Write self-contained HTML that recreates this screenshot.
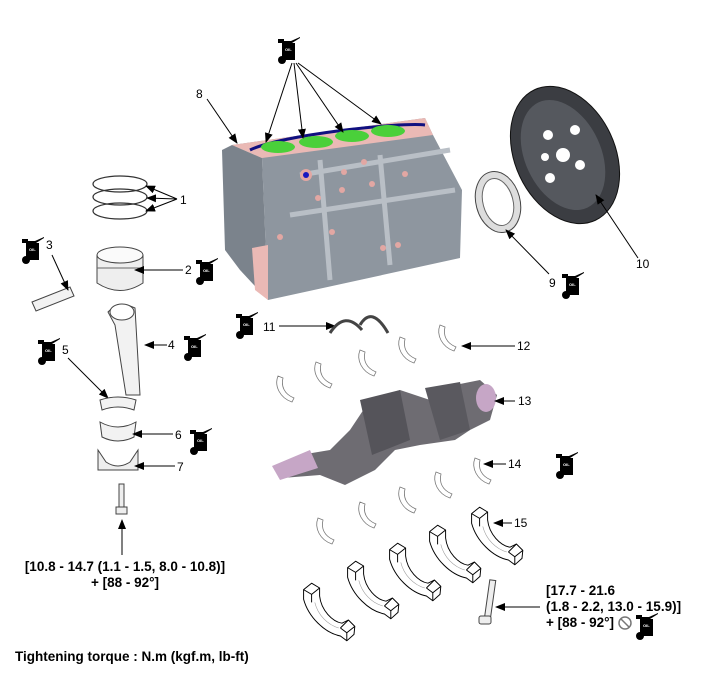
<!DOCTYPE html>
<html><head><meta charset="utf-8"><style>
body{margin:0;background:#fff;}
svg{display:block;font-family:"Liberation Sans",Arial,sans-serif;}
.n{font-size:12px;fill:#000;}
.b{font-size:13.5px;font-weight:bold;fill:#000;}
.l{stroke:#000;stroke-width:1;fill:none;}
.sh{fill:#fff;stroke:#777;stroke-width:0.8;}
</style></head><body>
<svg width="701" height="679" viewBox="0 0 701 679" xmlns="http://www.w3.org/2000/svg">
<defs>
<marker id="a" markerWidth="10" markerHeight="8" refX="9" refY="4" orient="auto" markerUnits="userSpaceOnUse"><path d="M0,0 L10,4 L0,8 Z" fill="#000"/></marker>
<g id="oil"><path d="M0,2 L6,2 L6,4 L13,4 L22,0 L22,1 L14,6 L0,6 Z" fill="#000"/><rect x="4" y="6" width="13" height="17" fill="#000"/><circle cx="4" cy="23" r="4" fill="#000"/><text x="7" y="14" font-size="4" fill="#fff" font-weight="bold">OIL</text></g>
<g id="shell"><path d="M0,0 C-4,10 2,22 14,26 L16,22 C6,18 3,10 5,2 Z" class="sh"/></g>
<g id="cap" fill="#fff" stroke="#000" stroke-width="1.2" stroke-linejoin="round" transform="scale(0.8)">
<path d="M-8,2 L2,-6 L12,0 L12,10 C14,28 28,42 40,44 L48,40 L56,48 L55,58 L46,66 L38,60 C18,56 -2,36 -8,14 Z"/>
<path d="M-8,2 L2,8 L12,0 M2,8 L2,18 M38,50 L48,40 M38,50 L46,56 L56,48 M46,56 L46,66" />
<path d="M6,18 C10,34 22,46 36,50" stroke="#999" stroke-width="0.7"/>
</g>
</defs>

<!-- engine block -->
<polygon points="232,145 262,158 268,300 460,258 462,190 433,135 425,118" fill="#8e969f"/>
<polygon points="222,150 232,145 262,158 268,300 240,270 225,250" fill="#7b838c"/>
<polygon points="232,145 425,118 433,135 262,158" fill="#eab9b5"/>
<polygon points="252,248 268,245 268,300 255,290" fill="#eab9b5"/>
<path d="M250,150 C280,135 400,122 425,125" stroke="#101080" stroke-width="3" fill="none"/>
<ellipse cx="278" cy="147" rx="17" ry="6" fill="#4ad03a"/>
<ellipse cx="316" cy="142" rx="17" ry="6" fill="#4ad03a"/>
<ellipse cx="352" cy="136" rx="17" ry="6" fill="#4ad03a"/>
<ellipse cx="388" cy="131" rx="17" ry="6" fill="#4ad03a"/>
<path d="M300,175 L450,150 M290,215 L455,190 M320,160 L330,280 M380,155 L390,265" stroke="#b9bfc6" stroke-width="5" fill="none"/>
<circle cx="306" cy="175" r="6" fill="#e2a7a3"/><circle cx="306" cy="175" r="3" fill="#1818c0"/>
<g fill="#e2a7a3"><circle cx="344" cy="172" r="3"/><circle cx="364" cy="162" r="3"/><circle cx="342" cy="190" r="3"/><circle cx="372" cy="184" r="3"/><circle cx="405" cy="174" r="3"/><circle cx="318" cy="198" r="3"/><circle cx="332" cy="232" r="3"/><circle cx="383" cy="248" r="3"/><circle cx="398" cy="245" r="3"/><circle cx="280" cy="237" r="3"/></g>

<!-- top oil + arrows -->
<use href="#oil" x="278" y="37"/>
<g class="l" marker-end="url(#a)">
<line x1="292" y1="63" x2="266" y2="142"/><line x1="294" y1="63" x2="303" y2="138"/><line x1="296" y1="63" x2="343" y2="132"/><line x1="298" y1="63" x2="381" y2="124"/>
<line x1="207" y1="99" x2="237" y2="143"/>
</g>
<text class="n" x="196" y="98">8</text>

<!-- rings -->
<g fill="none" stroke="#333" stroke-width="1.2">
<ellipse cx="120" cy="184" rx="27" ry="8"/><ellipse cx="120" cy="197" rx="27" ry="8"/><ellipse cx="120" cy="211" rx="27" ry="8"/></g>
<g class="l" marker-end="url(#a)"><line x1="177" y1="199" x2="146" y2="186"/><line x1="177" y1="199" x2="147" y2="198"/><line x1="177" y1="199" x2="146" y2="211"/></g>
<text class="n" x="180" y="204">1</text>
<!-- piston -->
<path d="M97,255 L97,283 Q120,298 143,283 L143,255 Z" fill="#eee" stroke="#444"/>
<ellipse cx="120" cy="255" rx="23" ry="8" fill="#fafafa" stroke="#444"/>
<line x1="97" y1="268" x2="143" y2="268" stroke="#666"/>
<line class="l" x1="183" y1="270" x2="135" y2="270" marker-end="url(#a)"/>
<text class="n" x="185" y="274">2</text>
<use href="#oil" x="196" y="258"/>
<!-- pin -->
<use href="#oil" x="22" y="237"/>
<text class="n" x="46" y="249">3</text>
<path d="M32,302 L70,287 L74,296 L36,311 Z" fill="#f2f2f2" stroke="#444"/>
<line class="l" x1="52" y1="255" x2="68" y2="290" marker-end="url(#a)"/>
<!-- conrod -->
<path d="M108,312 Q120,300 135,308 L140,395 L126,395 L115,325 Z" fill="#f2f2f2" stroke="#444"/>
<ellipse cx="122" cy="312" rx="12" ry="8" fill="#fff" stroke="#444"/>
<line class="l" x1="167" y1="345" x2="145" y2="345" marker-end="url(#a)"/>
<text class="n" x="168" y="349">4</text>
<use href="#oil" x="184" y="334"/>
<use href="#oil" x="38" y="338"/>
<text class="n" x="62" y="354">5</text>
<line class="l" x1="68" y1="358" x2="108" y2="398" marker-end="url(#a)"/>
<path d="M100,400 Q118,394 136,400 L134,410 Q118,404 102,410 Z" fill="#f2f2f2" stroke="#444"/>
<path d="M100,422 Q118,432 136,422 L134,437 Q118,445 102,437 Z" fill="#f2f2f2" stroke="#444"/>
<line class="l" x1="173" y1="434" x2="133" y2="434" marker-end="url(#a)"/>
<text class="n" x="175" y="439">6</text>
<use href="#oil" x="190" y="428"/>
<path d="M98,450 L106,462 Q118,470 130,462 L138,450 L138,470 L98,470 Z" fill="#eee" stroke="#444"/>
<line class="l" x1="175" y1="466" x2="135" y2="466" marker-end="url(#a)"/>
<text class="n" x="177" y="471">7</text>
<rect x="119" y="484" width="5" height="24" fill="#eee" stroke="#444"/>
<rect x="116" y="507" width="11" height="7" fill="#eee" stroke="#444"/>
<line class="l" x1="122" y1="555" x2="122" y2="520" marker-end="url(#a)"/>
<text class="b" x="125" y="571" text-anchor="middle">[10.8 - 14.7 (1.1 - 1.5, 8.0 - 10.8)]</text>
<text class="b" x="125" y="587" text-anchor="middle">+ [88 - 92°]</text>

<!-- oil seal 9 -->
<ellipse cx="498" cy="202" rx="22" ry="31" transform="rotate(-15 498 202)" fill="#ddd" stroke="#444"/>
<ellipse cx="498" cy="202" rx="15" ry="24" transform="rotate(-15 498 202)" fill="#fff" stroke="#666"/>
<line class="l" x1="549" y1="274" x2="506" y2="230" marker-end="url(#a)"/>
<text class="n" x="549" y="287">9</text>
<use href="#oil" x="562" y="272"/>
<!-- flywheel -->
<ellipse cx="565" cy="155" rx="50" ry="72" transform="rotate(-25 565 155)" fill="#3b3d42" stroke="#111"/>
<ellipse cx="563" cy="155" rx="38" ry="58" transform="rotate(-25 563 155)" fill="#55585e"/>
<g fill="#fff"><circle cx="563" cy="155" r="7"/><circle cx="548" cy="135" r="5"/><circle cx="575" cy="130" r="5"/><circle cx="580" cy="165" r="5"/><circle cx="550" cy="178" r="5"/><circle cx="545" cy="157" r="4"/></g>
<line class="l" x1="638" y1="258" x2="596" y2="195" marker-end="url(#a)"/>
<text class="n" x="636" y="268">10</text>

<!-- 11 -->
<use href="#oil" x="236" y="312"/>
<text class="n" x="263" y="331">11</text>
<line class="l" x1="279" y1="326" x2="335" y2="326" marker-end="url(#a)"/>
<path d="M330,333 Q345,310 362,330" fill="none" stroke="#444" stroke-width="3"/>
<path d="M360,325 Q372,305 388,333" fill="none" stroke="#444" stroke-width="3"/>
<!-- upper shells -->
<use href="#shell" x="278" y="376"/><use href="#shell" x="316" y="362"/><use href="#shell" x="360" y="350"/><use href="#shell" x="400" y="337"/><use href="#shell" x="440" y="325"/>
<line class="l" x1="515" y1="346" x2="462" y2="346" marker-end="url(#a)"/>
<text class="n" x="517" y="350">12</text>
<!-- crankshaft -->
<path d="M275,470 L300,455 L330,450 L350,430 L370,400 L400,390 L430,400 L455,385 L480,380 L497,395 L490,420 L470,430 L455,440 L420,445 L395,450 L375,470 L345,485 L320,475 L282,478 Z" fill="#6e6c72"/>
<path d="M272,466 L310,450 L318,468 L280,480 Z" fill="#c6a6c6"/>
<ellipse cx="486" cy="398" rx="10" ry="14" fill="#c6a6c6"/>
<path d="M360,400 L400,390 L410,440 L372,455 Z" fill="#55545a"/>
<path d="M425,388 L460,382 L470,430 L440,440 Z" fill="#5a595f"/>
<line class="l" x1="515" y1="401" x2="495" y2="401" marker-end="url(#a)"/>
<text class="n" x="518" y="405">13</text>
<!-- lower shells -->
<use href="#shell" x="318" y="518"/><use href="#shell" x="360" y="502"/><use href="#shell" x="400" y="487"/><use href="#shell" x="436" y="472"/><use href="#shell" x="475" y="458"/>
<line class="l" x1="506" y1="464" x2="484" y2="464" marker-end="url(#a)"/>
<text class="n" x="508" y="468">14</text>
<use href="#oil" x="556" y="452"/>
<!-- caps -->
<use href="#cap" x="310" y="588"/>
<use href="#cap" x="354" y="566"/>
<use href="#cap" x="396" y="548"/>
<use href="#cap" x="436" y="530"/>
<use href="#cap" x="478" y="512"/>
<line class="l" x1="512" y1="523" x2="494" y2="523" marker-end="url(#a)"/>
<text class="n" x="514" y="527">15</text>
<!-- bolt -->
<rect x="487" y="580" width="6" height="38" fill="#eee" stroke="#444" transform="rotate(8 490 600)"/>
<rect x="479" y="616" width="12" height="8" rx="2" fill="#eee" stroke="#444"/>
<line class="l" x1="540" y1="607" x2="496" y2="607" marker-end="url(#a)"/>
<text class="b" x="546" y="595">[17.7 - 21.6</text>
<text class="b" x="546" y="611">(1.8 - 2.2, 13.0 - 15.9)]</text>
<text class="b" x="546" y="627">+ [88 - 92°]</text>
<circle cx="625" cy="623" r="6" fill="none" stroke="#777" stroke-width="1.5"/><line x1="621" y1="619" x2="629" y2="627" stroke="#777" stroke-width="1.5"/>
<use href="#oil" x="636" y="613"/>

<text class="b" x="15" y="661">Tightening torque : N.m (kgf.m, lb-ft)</text>
</svg>
</body></html>
